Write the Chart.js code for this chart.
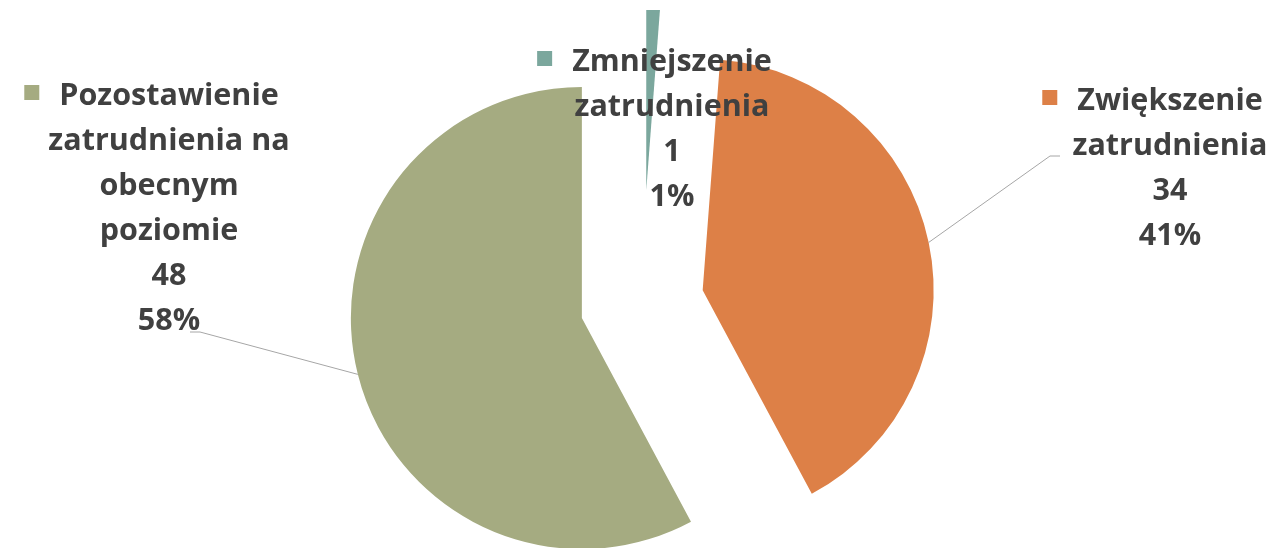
<!DOCTYPE html>
<html>
<head>
<meta charset="utf-8">
<script src="https://cdn.jsdelivr.net/npm/chart.js@4.4.1/dist/chart.umd.min.js"></script>
<style>
  html, body { margin: 0; padding: 0; background: #fff; }
  #wrap { width: 1273px; height: 548px; }
</style>
</head>
<body>
<div id="wrap"><canvas id="pie"></canvas></div>
<script>
// data
const categories = [
  ["Zmniejszenie", "zatrudnienia"],
  ["Zwiększenie", "zatrudnienia"],
  ["Pozostawienie", "zatrudnienia na", "obecnym", "poziomie"],
];
const counts = [1, 34, 48];
const percentLabels = ["1%", "41%", "58%"];

// style
const colors = ["#7ba79d", "#dd8047", "#a5ab81"];
const explode = [113, 62, 62];
const labelAt = [[672, 71], [1170, 110], [169, 105]];
const textColor = "#404040";
const font = "bold 30.5px 'Open Sans'";
const lineH = 45;

const explodePlugin = {
  id: "explode",
  afterDatasetsUpdate(chart) {
    const meta = chart.getDatasetMeta(0);
    const { left, right, top, bottom } = chart.chartArea;
    const cx = (left + right) / 2;
    const cy = (top + bottom) / 2;
    meta.data.forEach((arc, i) => {
      const mid = (arc.startAngle + arc.endAngle) / 2;
      arc.x = cx + Math.cos(mid) * explode[i];
      arc.y = cy + Math.sin(mid) * explode[i];
    });
  },
  beforeDatasetsDraw(chart) {
    const ctx = chart.ctx;
    ctx.save();
    ctx.beginPath();
    ctx.rect(0, 10, chart.width, chart.height - 10);
    ctx.clip();
  },
  afterDatasetsDraw(chart) {
    chart.ctx.restore();
  },
};

const labelPlugin = {
  id: "sliceLabels",
  afterDraw(chart) {
    const ctx = chart.ctx;
    const arcs = chart.getDatasetMeta(0).data;
    ctx.save();

    // leader lines from the slice edge
    ctx.strokeStyle = "#a6a6a6";
    ctx.lineWidth = 1;
    const edge = (arc) => {
      const mid = (arc.startAngle + arc.endAngle) / 2;
      return [arc.x + Math.cos(mid) * arc.outerRadius, arc.y + Math.sin(mid) * arc.outerRadius];
    };
    let p = edge(arcs[1]);
    ctx.beginPath();
    ctx.moveTo(p[0], p[1]);
    ctx.lineTo(1050, 156);
    ctx.lineTo(1060, 156);
    ctx.stroke();
    p = edge(arcs[2]);
    ctx.beginPath();
    ctx.moveTo(p[0], p[1]);
    ctx.lineTo(200, 332);
    ctx.lineTo(190, 332);
    ctx.stroke();

    ctx.font = font;
    ctx.textAlign = "center";
    ctx.textBaseline = "alphabetic";
    categories.forEach((lines, i) => {
      const [x, y] = labelAt[i];
      const all = lines.concat([String(counts[i]), percentLabels[i]]);
      ctx.fillStyle = textColor;
      all.forEach((t, j) => ctx.fillText(t, x, y + j * lineH));
      const w = ctx.measureText(lines[0]).width;
      ctx.fillStyle = colors[i];
      ctx.fillRect(x - w / 2 - 35, y - 20, 15, 15);
    });
    ctx.restore();
  },
};

new Chart(document.getElementById("pie"), {
  type: "pie",
  data: {
    labels: categories.map((c) => c.join(" ")),
    datasets: [{
      data: counts,
      backgroundColor: colors,
      borderWidth: 0,
    }],
  },
  options: {
    responsive: true,
    maintainAspectRatio: false,
    animation: false,
    radius: 231,
    layout: { padding: { left: 11, right: 0, top: 58, bottom: 0 } },
    plugins: {
      legend: { display: false },
      tooltip: { enabled: false },
    },
  },
  plugins: [explodePlugin, labelPlugin],
});
</script>
</body>
</html>
